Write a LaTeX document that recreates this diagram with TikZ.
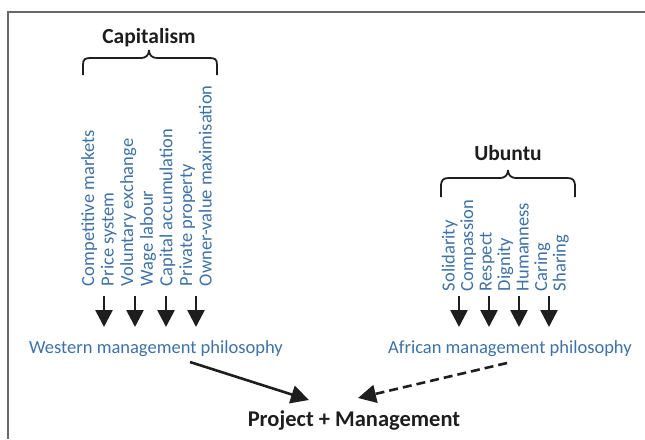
\documentclass[tikz,border=0pt]{standalone}
\usepackage{fontspec}
\setmainfont{Carlito}
\usetikzlibrary{arrows.meta}
\definecolor{lblue}{RGB}{62,113,166}
\definecolor{ink}{RGB}{30,30,30}
\definecolor{framegray}{RGB}{105,105,105}
\begin{document}
\begin{tikzpicture}[x=1pt,y=-1pt,
  lbl/.style={text=lblue,font=\fontsize{18.5}{20}\selectfont,inner sep=0pt,outer sep=0pt},
  vlbl/.style={lbl,rotate=90,anchor=base west},
  ttl/.style={text=ink,font=\fontsize{21.5}{22}\selectfont\bfseries,inner sep=0pt,outer sep=0pt,anchor=base},
  brace/.style={draw=ink,line width=1.8pt},
  downarr/.style={draw=ink,line width=2.6pt,-{Triangle[width=17pt,length=17pt]}},
  slantarr/.style={draw=ink,line width=2.6pt,-{Triangle[width=18pt,length=18pt]}},
  frame/.style={draw=framegray,line width=1.5pt}]
\useasboundingbox (0,0) rectangle (645,439);
% frame (top and left only)
\draw[frame] (645,12) -- (8,12) -- (8,439);

% titles
\node[ttl] (cap) at (149,43) {Capitalism};
\node[ttl] (ubu) at (508,160) {Ubuntu};
\node[ttl,font=\fontsize{22.5}{23}\selectfont\bfseries] (pm) at (354,426) {Project + Management};

% braces
\draw[brace] (83,75) -- (83,65) .. controls (83,59) and (85,58) .. (91,58) -- (141,58)
  .. controls (146,58) and (149,55) .. (149,50);
\draw[brace] (217,75) -- (217,65) .. controls (217,59) and (215,58) .. (209,58) -- (157,58)
  .. controls (152,58) and (149,55) .. (149,50);
\draw[brace] (441,197) -- (441,187) .. controls (441,180) and (443,178) .. (449,178) -- (500,178)
  .. controls (505,178) and (508,175) .. (508,170);
\draw[brace] (575,197) -- (575,187) .. controls (575,180) and (573,178) .. (567,178) -- (516,178)
  .. controls (511,178) and (508,175) .. (508,170);

% capitalism labels
\node[vlbl] (c1) at (94,286) {Competitive markets};
\node[vlbl] (c2) at (113.6,286) {Price system};
\node[vlbl] (c3) at (133.2,286) {Voluntary exchange};
\node[vlbl] (c4) at (152.8,286) {Wage labour};
\node[vlbl] (c5) at (172.4,286) {Capital accumulation};
\node[vlbl] (c6) at (192,286) {Private property};
\node[vlbl] (c7) at (211.6,286) {Owner-value maximisation};

% ubuntu labels
\node[vlbl] (u1) at (454.5,291) {Solidarity};
\node[vlbl] (u2) at (473,291) {Compassion};
\node[vlbl] (u3) at (491.5,291) {Respect};
\node[vlbl] (u4) at (510,291) {Dignity};
\node[vlbl] (u5) at (528.5,291) {Humanness};
\node[vlbl] (u6) at (547,291) {Caring};
\node[vlbl] (u7) at (565.5,291) {Sharing};

% philosophies
\node[lbl,anchor=base] (west) at (156,353) {Western management philosophy};
\node[lbl,anchor=base] (afr) at (510,353) {African management philosophy};

% vertical arrows
\foreach \i/\x in {1/104,2/135,3/166,4/196}{
  \coordinate (ls\i) at (\x,296);
  \coordinate (le\i) at (\x,327);
  \draw[downarr] (ls\i) -- (le\i);
}
\foreach \i/\x in {1/459,2/489,3/519,4/549}{
  \coordinate (rs\i) at (\x,296);
  \coordinate (re\i) at (\x,327);
  \draw[downarr] (rs\i) -- (re\i);
}

% slanted arrows
\coordinate (wst) at (190,362);
\coordinate (wen) at (309,400);
\coordinate (ast) at (507,363);
\coordinate (aen) at (358,398);
\draw[slantarr] (wst) -- (wen);
\draw[slantarr,dash pattern=on 9pt off 5pt] (ast) -- (aen);
\end{tikzpicture}
\end{document}
